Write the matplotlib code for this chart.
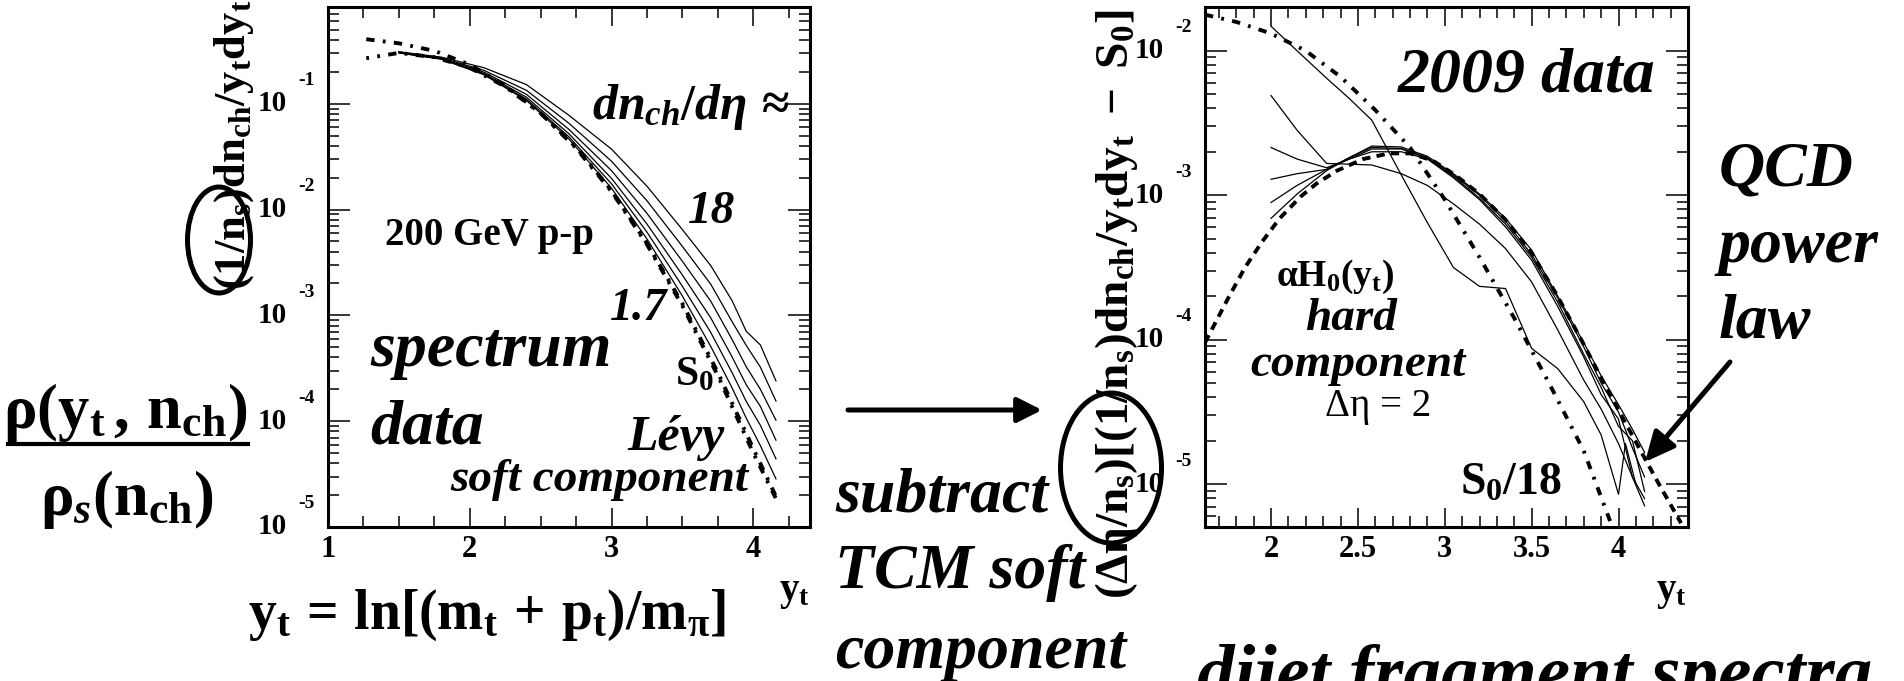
import numpy as np
import matplotlib
matplotlib.use("Agg")
import matplotlib.pyplot as plt
import matplotlib.transforms as mtransforms
from matplotlib.ticker import LogLocator, MultipleLocator, NullFormatter, FuncFormatter
from matplotlib.patches import Ellipse, FancyArrowPatch
from matplotlib.lines import Line2D

plt.rcParams['font.family'] = ['Liberation Serif', 'DejaVu Serif']
plt.rcParams['font.weight'] = 'bold'
plt.rcParams['mathtext.fontset'] = 'custom'
plt.rcParams['mathtext.rm'] = 'Liberation Serif:bold'
plt.rcParams['mathtext.bf'] = 'Liberation Serif:bold'
plt.rcParams['mathtext.it'] = 'Liberation Serif:italic:bold'
plt.rcParams['mathtext.cal'] = 'Liberation Serif:italic'
plt.rcParams['mathtext.sf'] = 'Liberation Serif'
plt.rcParams['lines.scale_dashes'] = False

# ---------------- left panel: yt spectra, 200 GeV p-p ----------------
soft_x = [1.27, 1.5, 1.75, 2.0, 2.25, 2.5, 2.75, 3.0, 3.25, 3.5, 3.75, 4.0, 4.17]
levy_a = [0.407, 0.372, 0.316, 0.234, 0.148, 0.0813, 0.0380, 0.0148,
          4.68e-3, 1.23e-3, 2.69e-4, 5.01e-5, 1.74e-5]
levy_b = [0.269, 0.302, 0.275, 0.219, 0.145, 0.0813, 0.0389, 0.0151,
          4.79e-3, 1.29e-3, 2.88e-4, 5.50e-5, 1.82e-5]

data_x = [1.5, 1.8, 2.1, 2.4, 2.7, 3.0, 3.25, 3.5, 3.7, 3.85, 3.95, 4.05, 4.16]
spec_n18 = [0.309, 0.2754, 0.2188, 0.1514, 0.0776, 0.0372, 0.0166, 0.00646,
            0.00295, 0.00138, 0.000708, 0.000525, 0.000240]
spec_n5 = [0.309, 0.2710, 0.2065, 0.1337, 0.0652, 0.0286, 0.0121, 0.00448,
           0.00197, 0.000873, 0.000520, 0.000324, 0.000155]
spec_n4 = [0.3055, 0.2679, 0.1986, 0.1225, 0.0571, 0.0233, 0.00920, 0.00324,
           0.00136, 0.000593, 0.000327, 0.000200, 0.000102]
spec_n3 = [0.3055, 0.2655, 0.1932, 0.1151, 0.0519, 0.0197, 0.00729, 0.00240,
           0.000946, 0.000406, 0.000221, 0.000138, 6.61e-5]
spec_n2 = [0.302, 0.2642, 0.1901, 0.1104, 0.0486, 0.0175, 0.00611, 0.00188,
           0.000689, 0.000288, 0.000154, 9.14e-5, 4.41e-5]
spec_n17 = [0.302, 0.2636, 0.1879, 0.1072, 0.0463, 0.0159, 0.00527, 0.00152,
            0.000508, 0.000207, 0.000107, 5.87e-5, 2.85e-5]
left_spectra = [spec_n18, spec_n5, spec_n4, spec_n3, spec_n2, spec_n17]

# ---------------- right panel: hard components ----------------
s0_x = [1.62, 1.8, 2.0, 2.2, 2.4, 2.6, 2.8, 3.0, 3.2, 3.4, 3.6, 3.8, 3.95, 4.0]
s0_over_18 = [0.01778, 0.01585, 0.01318, 0.0100, 0.00661, 0.00389, 0.00214,
              0.000933, 0.000372, 0.000141, 5.01e-5, 1.70e-5, 5.62e-6, 3.80e-6]

hard_x = [1.62, 1.75, 1.85, 1.95, 2.05, 2.17, 2.26, 2.38, 2.53, 2.68, 2.8,
          2.93, 3.06, 3.2, 3.35, 3.5, 3.64, 3.79, 3.92, 4.06, 4.21, 4.36]
hard_h0 = [9.55e-5, 1.905e-4, 3.16e-4, 4.79e-4, 6.92e-4, 9.77e-4, 1.20e-3,
           1.48e-3, 1.78e-3, 1.95e-3, 1.95e-3, 1.74e-3, 1.38e-3, 1.02e-3,
           6.76e-4, 3.98e-4, 2.09e-4, 9.77e-5, 4.90e-5, 2.40e-5, 1.12e-5, 5.37e-6]

hc_xa = [2.0, 2.15, 2.32, 2.45, 2.58, 2.75, 2.9, 3.05, 3.2, 3.35, 3.5, 3.65,
         3.8, 3.9, 4.0, 4.04, 4.1]
hc_a = [0.01479, 0.0100, 0.00646, 0.00468, 0.00331, 0.00138, 0.000646,
        0.000316, 0.000234, 0.000226, 8.71e-5, 6.31e-5, 3.72e-5, 2.19e-5,
        8.51e-6, 1.91e-5, 1.0e-5]
hc_x = [2.0, 2.15, 2.32, 2.45, 2.58, 2.75, 2.9, 3.05, 3.2, 3.35, 3.5, 3.65,
        3.8, 3.9, 4.0, 4.08, 4.15]
hc_b = [0.00490, 0.00282, 0.00166, 0.00164, 0.00162, 0.00141, 0.00117,
        0.000871, 0.000631, 0.000427, 0.000251, 0.000117, 5.25e-5, 3.31e-5,
        1.91e-5, 1.12e-5, 7.94e-6]
hc_c = [0.00214, 0.00178, 0.00155, 0.00178, 0.00200, 0.00200, 0.00178,
        0.00132, 0.000933, 0.000603, 0.000355, 0.000170, 7.59e-5, 4.17e-5,
        2.82e-5, 1.12e-5, 7.08e-6]
hc_d = [0.00129, 0.00141, 0.00151, 0.00178, 0.00209, 0.00209, 0.00180,
        0.00135, 0.000955, 0.000631, 0.000372, 0.000182, 7.94e-5, 4.68e-5,
        2.51e-5, 2.0e-5, 8.91e-6]
hc_e = [0.000891, 0.00117, 0.00151, 0.00182, 0.00214, 0.00211, 0.00182,
        0.00138, 0.00100, 0.000661, 0.000389, 0.000195, 8.91e-5, 5.01e-5,
        3.16e-5, 1.78e-5, 1.12e-5]
hc_f = [0.000692, 0.00102, 0.00148, 0.00182, 0.00219, 0.00216, 0.00186,
        0.00141, 0.00102, 0.000692, 0.000417, 0.000200, 9.55e-5, 5.62e-5,
        3.55e-5, 2.40e-5, 1.66e-5]
right_spectra = [hc_b, hc_c, hc_d, hc_e, hc_f]

left_xticks = [1, 2, 3, 4]
right_xticks = [2, 2.5, 3, 3.5, 4]
left_decades = [-1, -2, -3, -4, -5]
right_decades = [-2, -3, -4, -5]

# ---------------- figure ----------------
W, H = 1904, 681
fig = plt.figure(figsize=(W / 100, H / 100), dpi=100)


def fx(px):
    return px / W


def fy(py):
    return 1 - py / H


def put(px, py, s, size, ha='left', va='baseline', style='normal',
        weight='bold', rot=0):
    fig.text(fx(px), fy(py), s, fontsize=size, ha=ha, va=va, style=style,
             weight=weight, rotation=rot, family='Liberation Serif')


ax1 = fig.add_axes([fx(328), fy(527), (810 - 328) / W, (527 - 7) / H])
ax2 = fig.add_axes([fx(1205), fy(527), (1688 - 1205) / W, (527 - 7) / H])

DASHDOT = (0, (6, 6, 2, 6))
DASHDOT2 = (4, (6, 6, 2, 6))
DASHED = (0, (6, 4.5))


def style_axes(ax, xmajor, xminor, xticks, decades):
    ax.set_yscale('log')
    ax.yaxis.set_major_locator(LogLocator(base=10, numticks=20))
    ax.yaxis.set_minor_locator(LogLocator(base=10, subs=np.arange(2, 10), numticks=20))
    ax.yaxis.set_major_formatter(NullFormatter())
    ax.yaxis.set_minor_formatter(NullFormatter())
    ax.xaxis.set_major_locator(MultipleLocator(xmajor))
    ax.xaxis.set_minor_locator(MultipleLocator(xminor))
    ax.xaxis.set_major_formatter(FuncFormatter(
        lambda v, p: ('%g' % v) if any(abs(v - t) < 1e-6 for t in xticks) else ''))
    ax.tick_params(axis='both', which='both', direction='in', top=True,
                   right=True, labelleft=False)
    ax.tick_params(axis='y', which='major', length=16, width=1.1)
    ax.tick_params(axis='y', which='minor', length=8, width=1.1)
    ax.tick_params(axis='x', which='major', length=14, width=1.1, pad=6,
                   labelsize=22)
    ax.tick_params(axis='x', which='minor', length=8, width=1.1)
    for lab in ax.get_xticklabels():
        lab.set_fontweight('bold')
    for sp in ax.spines.values():
        sp.set_linewidth(2.2)
    base = ax.get_yaxis_transform()
    t10 = mtransforms.offset_copy(base, fig=fig, x=-41, y=0, units='dots')
    texp = mtransforms.offset_copy(base, fig=fig, x=-30, y=23, units='dots')
    for e in decades:
        ax.text(0, 10.0 ** e, '10', transform=t10, ha='right', va='center',
                fontsize=21, weight='bold', clip_on=False)
        ax.text(0, 10.0 ** e, str(e), transform=texp, ha='left', va='center',
                fontsize=14, weight='bold', clip_on=False)


# left panel curves
for ys in left_spectra:
    ax1.plot(data_x, ys, color='k', lw=0.9)
ax1.plot(soft_x, levy_a, color='k', lw=2.8, linestyle=DASHDOT)
ax1.plot(soft_x, levy_b, color='k', lw=2.8, linestyle=DASHDOT2)
ax1.set_xlim(1, 4.4)
ax1.set_ylim(1.0e-5, 0.82)
style_axes(ax1, 1, 0.25, left_xticks, left_decades)

# right panel curves
ax2.plot(hc_xa, hc_a, color='k', lw=0.9)
for ys in right_spectra:
    ax2.plot(hc_x, ys, color='k', lw=0.9)
ax2.plot(s0_x, s0_over_18, color='k', lw=2.8, linestyle=DASHDOT)
ax2.plot(hard_x, hard_h0, color='k', lw=2.8, linestyle=DASHED)
ax2.set_xlim(1.62, 4.4)
ax2.set_ylim(5.05e-6, 0.0201)
style_axes(ax2, 0.5, 0.1, right_xticks, right_decades)

# ---------------- annotations: left panel ----------------
put(592, 119, r'$dn_{ch}/d\eta\,\approx$', 36)
put(688, 223, '18', 34, style='italic')
put(385, 245, '200 GeV p-p', 28)
put(610, 320, '1.7', 33, style='italic')
put(370, 366, 'spectrum', 46, style='italic')
put(370, 443, 'data', 46, style='italic')
put(675, 385, r'$\mathrm{S_0}$', 30)
put(627, 450, 'Lévy', 36, style='italic')
put(450, 491, 'soft component', 34, style='italic')

# axis titles
put(810, 600, r'$\mathrm{y_t}$', 28, ha='right')
put(1687, 600, r'$\mathrm{y_t}$', 28, ha='right')
put(248, 629, r'$\mathrm{y_t\,=\,ln[(m_t\,+\,p_t)/m_\pi]}$', 40)
put(234, 0, r'$\mathrm{(1/n_s)dn_{ch}/y_tdy_t}$', 32, ha='center', va='top', rot=90)
put(1117, 10, r'$\mathrm{(\Delta\eta/n_s)[(1/n_s)dn_{ch}/y_tdy_t\ -\ S_0]}$', 34,
    ha='center', va='top', rot=90)

# ratio on the far left
put(125, 428, r'$\mathrm{\rho(y_t\,,\,n_{ch})}$', 45, ha='center')
put(127, 515, r'$\mathrm{\rho}_{\mathcal{s}}\mathrm{(n_{ch})}$', 45, ha='center')
fig.add_artist(Line2D([fx(8), fx(248)], [fy(444), fy(444)],
                      transform=fig.transFigure, color='k', lw=3))

# circled normalisations
fig.add_artist(Ellipse((fx(219), fy(240)), 63 / W, 106 / H,
                       transform=fig.transFigure, fill=False, ec='k', lw=3.6))
fig.add_artist(Ellipse((fx(1111), fy(468)), 101 / W, 150 / H,
                       transform=fig.transFigure, fill=False, ec='k', lw=3.6))

# middle: subtraction step
fig.add_artist(FancyArrowPatch((fx(848), fy(410)), (fx(1042), fy(410)),
                               transform=fig.transFigure,
                               arrowstyle='-|>,head_length=0.75,head_width=0.38',
                               mutation_scale=20, lw=3.6, color='k',
                               shrinkA=0, shrinkB=0))
put(835, 512, 'subtract', 46, style='italic')
put(835, 588, 'TCM soft', 46, style='italic')
put(835, 668, 'component', 46, style='italic')

# ---------------- annotations: right panel ----------------
put(1398, 92, '2009 data', 46, style='italic')
put(1335, 286, r'$\mathrm{\alpha H_0(y_t)}$', 27, ha='center')
put(1351, 330, 'hard', 34, ha='center', style='italic')
put(1358, 376, 'component', 34, ha='center', style='italic')
put(1378, 416, 'Δη = 2', 28, ha='center', weight='normal')
put(1460, 495, r'$\mathrm{S_0/18}$', 33)
put(1719, 186, 'QCD', 46, style='italic')
put(1719, 262, 'power', 46, style='italic')
put(1719, 338, 'law', 46, style='italic')
fig.add_artist(FancyArrowPatch((fx(1730), fy(362)), (fx(1645), fy(462)),
                               transform=fig.transFigure,
                               arrowstyle='-|>,head_length=0.9,head_width=0.42',
                               mutation_scale=20, lw=3.6, color='k',
                               shrinkA=0, shrinkB=0))
put(1197, 696, 'dijet fragment spectra', 54, style='italic')

fig.savefig('out.png', dpi=100)
